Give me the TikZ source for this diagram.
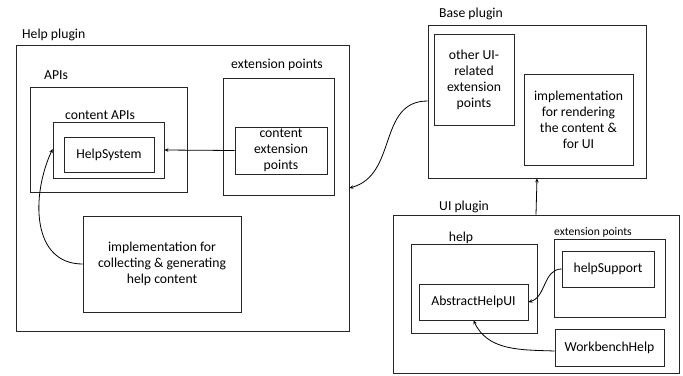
\documentclass[tikz,border=0pt]{standalone}
\usepackage{fontspec}
\setmainfont{Carlito}
\usetikzlibrary{arrows.meta}
\begin{document}
\begin{tikzpicture}[x=1pt,y=-1pt,
  box/.style={draw=black!85,line width=0.8pt,rectangle,inner sep=0pt,align=center,
    font=\fontsize{13.7}{16}\selectfont},
  lbl/.style={inner sep=0pt,font=\fontsize{13.7}{16}\selectfont},
  smalllbl/.style={inner sep=0pt,font=\fontsize{11.6}{14}\selectfont},
  arr/.style={-{Stealth[length=4pt,width=3.5pt]},line width=0.8pt}]
\useasboundingbox (0,0) rectangle (683,375);

% Help plugin
\node[box,minimum width=333pt,minimum height=286pt] (helpplugin) at (182.5,188) {};
\node[lbl,anchor=west] (helpplugintitle) at (22,35) {Help plugin};
\node[box,minimum width=157pt,minimum height=105pt] (apis) at (108.5,139.5) {};
\node[lbl,anchor=west] (apistitle) at (44,75) {APIs};
\node[box,minimum width=111pt,minimum height=56pt] (contentapis) at (108.5,150) {};
\node[lbl,anchor=west] (contentapistitle) at (65,115) {content APIs};
\node[box,minimum width=90pt,minimum height=35pt] (helpsystem) at (109,154.5) {HelpSystem};
\node[box,minimum width=111pt,minimum height=117pt] (extpts) at (278.5,136.5) {};
\node[lbl] (extptstitle) at (277,65) {extension points};
\node[box,minimum width=92pt,minimum height=47pt] (cextpts) at (281,150.5) {content\\extension\\points};
\node[box,minimum width=158pt,minimum height=96pt] (implcollect) at (162,264)
  {implementation for\\collecting \& generating\\help content};

% Base plugin
\node[box,minimum width=218pt,minimum height=153pt] (baseplugin) at (537,101.5) {};
\node[lbl,anchor=west] (baseplugintitle) at (439,14) {Base plugin};
\node[box,minimum width=80pt,minimum height=91pt] (otherui) at (474,79.5)
  {other UI-\\related\\extension\\points};
\node[box,minimum width=109pt,minimum height=91pt] (implrender) at (578.5,119.5)
  {implementation\\for rendering\\the content \&\\for UI};

% UI plugin
\node[box,minimum width=286pt,minimum height=158pt] (uiplugin) at (536,294) {};
\node[lbl,anchor=west] (uiplugintitle) at (439,207) {UI plugin};
\node[box,minimum width=126pt,minimum height=89pt] (helpbox) at (474,288.5) {};
\node[lbl] (helpboxtitle) at (461,238) {help};
\node[box,minimum width=109pt,minimum height=36pt] (abstracthelpui) at (473.5,302) {AbstractHelpUI};
\node[box,minimum width=111pt,minimum height=78pt] (uiext) at (609.5,278) {};
\node[smalllbl,anchor=west] (uiexttitle) at (554,232) {extension points};
\node[box,minimum width=92pt,minimum height=36pt] (helpsupport) at (608,269) {helpSupport};
\node[box,minimum width=109pt,minimum height=37pt] (workbench) at (609.5,347.5) {WorkbenchHelp};

% connectors
\draw[arr] (cextpts.west) -- (contentapis.east);
\draw[arr] (implcollect.west) to[out=180,in=-115,looseness=1.1] ([yshift=1pt]contentapis.west);
\draw[arr] ([yshift=0.5pt]baseplugin.west) to[out=180,in=15,looseness=1.1] ([yshift=0pt]helpplugin.east);
\draw[arr] (uiplugin.north) -- (baseplugin.south);
\draw[arr] (helpsupport.west) to[out=180,in=15] (abstracthelpui.east);
\draw[arr] ([yshift=-3.5pt]workbench.west) to[out=178,in=-65] (abstracthelpui.south);
\end{tikzpicture}
\end{document}
